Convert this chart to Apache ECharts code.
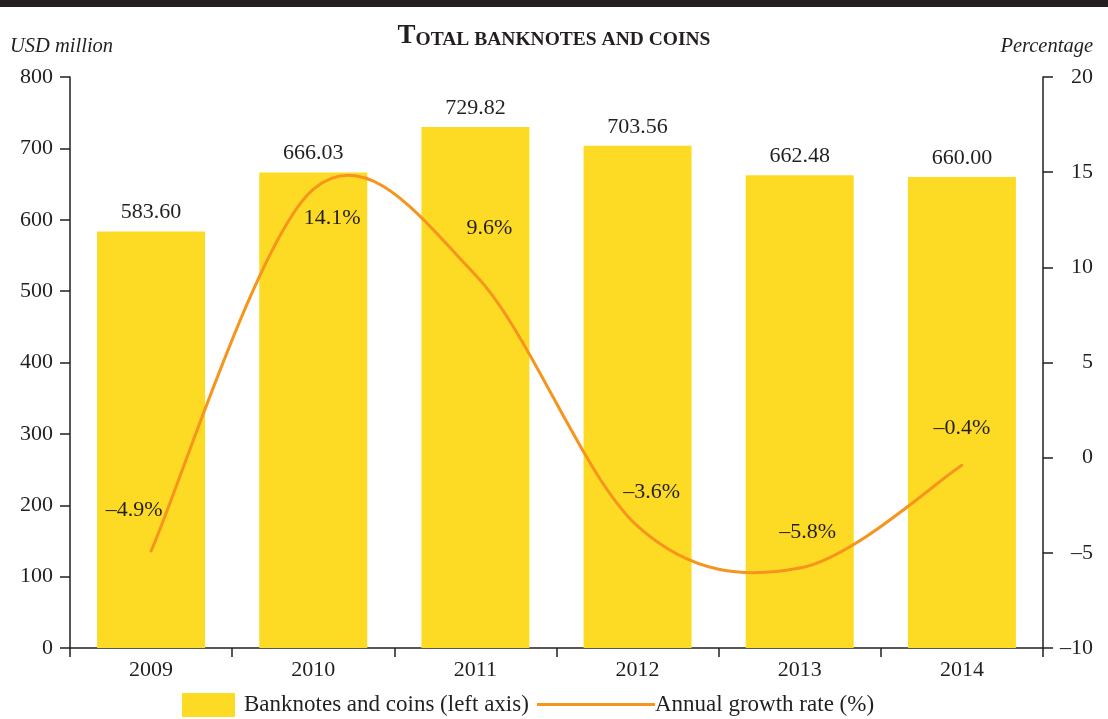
<!DOCTYPE html>
<html>
<head>
<meta charset="utf-8">
<script src="https://cdn.jsdelivr.net/npm/echarts@6/dist/echarts.min.js"></script>
<style>
  html, body { margin: 0; padding: 0; background: #fff; }
  #chart { width: 1108px; height: 719px; }
</style>
</head>
<body>
<div id="chart"></div>
<script>
// Total banknotes and coins in circulation, 2009-2014
const years = ['2009', '2010', '2011', '2012', '2013', '2014'];
const banknotesCoins = [583.60, 666.03, 729.82, 703.56, 662.48, 660.00]; // USD million
const growthRate = [-4.9, 14.1, 9.6, -3.6, -5.8, -0.4];                  // %
const leftTicks = { min: 0, max: 800, interval: 100 };
const rightTicks = { min: -10, max: 20, interval: 5 };

// Label placement around each growth point (pixel offsets from the point)
const growthLabelOffsets = [[-17, -41], [19, 29], [14, -47], [14, -34], [8, -36], [0, -37]];

const ink = '#231f20';
const serif = '"Liberation Serif", "DejaVu Serif", serif';
const barColor = '#FDDB24';
const lineColor = '#F7941D';
const minus = s => String(s).replace('-', '\u2013');

const chart = echarts.init(document.getElementById('chart'), null, { renderer: 'canvas' });

// Catmull-Rom style curve through the growth points, drawn segment by segment
function renderGrowth(params, api) {
  const i = params.dataIndex;
  const n = growthRate.length;
  const pt = k => {
    const j = Math.max(0, Math.min(n - 1, k));
    return api.coord([j, growthRate[j]]);
  };
  const p = pt(i);
  const children = [];
  if (i < n - 1) {
    const p0 = pt(i - 1), p1 = p, p2 = pt(i + 1), p3 = pt(i + 2);
    children.push({
      type: 'bezierCurve',
      shape: {
        x1: p1[0], y1: p1[1],
        cpx1: p1[0] + (p2[0] - p0[0]) / 6, cpy1: p1[1] + (p2[1] - p0[1]) / 6,
        cpx2: p2[0] - (p3[0] - p1[0]) / 6, cpy2: p2[1] - (p3[1] - p1[1]) / 6,
        x2: p2[0], y2: p2[1]
      },
      style: { stroke: lineColor, lineWidth: 3, fill: null, lineCap: 'round' }
    });
  }
  const off = growthLabelOffsets[i];
  children.push({
    type: 'text',
    x: p[0] + off[0], y: p[1] + off[1],
    style: {
      text: minus(growthRate[i].toFixed(1)) + '%',
      fontFamily: serif, fontSize: 22, fill: ink,
      align: 'center', verticalAlign: 'middle'
    },
    z2: 10
  });
  return { type: 'group', children };
}

chart.setOption({
  backgroundColor: '#fff',
  animation: false,
  textStyle: { fontFamily: serif, color: ink },
  graphic: [
    { type: 'rect', left: 0, top: 0, shape: { width: 1108, height: 7 }, style: { fill: ink } }
  ],
  title: [
    {
      text: '{big|T}{small|OTAL BANKNOTES AND COINS}',
      left: 'center', top: 23, padding: 0,
      textStyle: {
        rich: {
          big: { fontFamily: serif, fontWeight: 'bold', fontSize: 27, color: ink, verticalAlign: 'bottom', lineHeight: 27 },
          small: { fontFamily: serif, fontWeight: 'bold', fontSize: 19.5, color: ink, verticalAlign: 'bottom', lineHeight: 24 }
        }
      }
    },
    {
      text: 'USD million', left: 10, top: 37, padding: 0,
      textStyle: { fontFamily: serif, fontStyle: 'italic', fontWeight: 'normal', fontSize: 20.5, color: ink }
    },
    {
      text: 'Percentage', right: 15, top: 37, padding: 0,
      textStyle: { fontFamily: serif, fontStyle: 'italic', fontWeight: 'normal', fontSize: 20.5, color: ink }
    }
  ],
  legend: [
    {
      data: [{ name: 'Banknotes and coins (left axis)', icon: 'rect' }],
      left: 182, top: 693, padding: 0,
      itemWidth: 53, itemHeight: 24,
      textStyle: { fontFamily: serif, fontSize: 23, color: ink, padding: [3, 0, 0, 4] }
    },
    {
      data: [{ name: 'Annual growth rate (%)', icon: 'rect' }],
      left: 537, top: 693, padding: 0,
      itemWidth: 118, itemHeight: 3,
      textStyle: { fontFamily: serif, fontSize: 23, color: ink, padding: [3, 0, 0, -5] }
    }
  ],
  grid: { left: 70, right: 65, top: 77, bottom: 71, containLabel: false },
  xAxis: {
    type: 'category',
    data: years,
    boundaryGap: true,
    axisLine: { show: true, lineStyle: { color: ink, width: 1.5 } },
    axisTick: { show: true, length: 9, lineStyle: { color: ink, width: 1.5 } },
    axisLabel: { fontFamily: serif, fontSize: 22, color: ink, margin: 11 }
  },
  yAxis: [
    {
      type: 'value',
      min: leftTicks.min, max: leftTicks.max, interval: leftTicks.interval,
      axisLine: { show: true, lineStyle: { color: ink, width: 1.5 } },
      axisTick: { show: true, length: 10, lineStyle: { color: ink, width: 1.5 } },
      axisLabel: { fontFamily: serif, fontSize: 22, color: ink, margin: 17 },
      splitLine: { show: false }
    },
    {
      type: 'value',
      position: 'right',
      min: rightTicks.min, max: rightTicks.max, interval: rightTicks.interval,
      axisLine: { show: true, lineStyle: { color: ink, width: 1.5 } },
      axisTick: { show: true, length: 10, lineStyle: { color: ink, width: 1.5 } },
      axisLabel: { fontFamily: serif, fontSize: 22, color: ink, margin: 50, align: 'right', formatter: v => minus(v) },
      splitLine: { show: false }
    }
  ],
  series: [
    {
      name: 'Banknotes and coins (left axis)',
      type: 'bar',
      yAxisIndex: 0,
      data: banknotesCoins,
      barWidth: 108,
      itemStyle: { color: barColor },
      label: {
        show: true, position: 'top', distance: 8,
        fontFamily: serif, fontSize: 22, color: ink,
        formatter: p => p.value.toFixed(2)
      }
    },
    {
      name: 'Annual growth rate (%)',
      type: 'custom',
      yAxisIndex: 1,
      coordinateSystem: 'cartesian2d',
      renderItem: renderGrowth,
      itemStyle: { color: lineColor },
      encode: { x: 0, y: 1 },
      z: 5,
      data: growthRate.map((v, i) => [i, v])
    }
  ]
});
</script>
</body>
</html>
